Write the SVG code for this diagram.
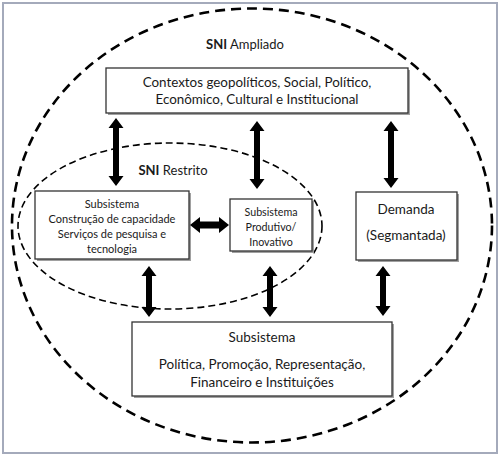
<svg xmlns="http://www.w3.org/2000/svg" width="500" height="457" viewBox="0 0 500 457">
<style>
text{font-family:Lato,"Liberation Sans",sans-serif;fill:#1a1a1a;text-anchor:middle}
.box{fill:#fff;stroke:#333;stroke-width:1.3}
.sh{fill:#a0a0a0}
.arr{fill:#000}
</style>
<rect x="0" y="0" width="500" height="457" fill="#fff"/>
<rect x="3" y="3" width="494" height="450" fill="#fff" stroke="#a4aabb" stroke-width="2"/>
<ellipse id="sni-ampliado" cx="252" cy="225.5" rx="240" ry="217" fill="none" stroke="#000" stroke-width="2.6" stroke-dasharray="10 6"/>
<ellipse id="sni-restrito" cx="170" cy="226" rx="152" ry="83" fill="none" stroke="#000" stroke-width="1.6" stroke-dasharray="7 4"/>
<text x="245" y="49" font-size="13"><tspan font-weight="bold">SNI</tspan> Ampliado</text>
<text x="173" y="175" font-size="13"><tspan font-weight="bold">SNI</tspan> Restrito</text>
<g id="contextos">
<rect class="sh" x="108" y="70" width="302" height="45"/>
<rect class="box" x="106" y="68" width="302" height="45"/>
<text x="257" y="86.5" font-size="13.4">Contextos geopolíticos, Social, Político,</text>
<text x="257" y="103.5" font-size="13.4">Econômico, Cultural e Institucional</text>
</g>
<g id="subsistema-capacidade">
<rect class="sh" x="37" y="193" width="154" height="68"/>
<rect class="box" x="35" y="191" width="154" height="68"/>
<text x="112" y="208" font-size="11">Subsistema</text>
<text x="112" y="223" font-size="11">Construção de capacidade</text>
<text x="112" y="238" font-size="11">Serviços de pesquisa e</text>
<text x="112" y="253" font-size="11">tecnologia</text>
</g>
<g id="subsistema-produtivo">
<rect class="sh" x="232" y="201" width="82" height="52"/>
<rect class="box" x="230" y="199" width="82" height="52"/>
<text x="271" y="216" font-size="10.7">Subsistema</text>
<text x="271" y="231" font-size="10.7">Produtivo/</text>
<text x="271" y="246" font-size="10.7">Inovativo</text>
</g>
<g id="demanda">
<rect class="sh" x="358" y="194" width="101" height="68"/>
<rect class="box" x="356" y="192" width="101" height="68"/>
<text x="406" y="213.5" font-size="13.5">Demanda</text>
<text x="406" y="239.5" font-size="13.5">(Segmantada)</text>
</g>
<g id="subsistema-politica">
<rect class="sh" x="134" y="324" width="260" height="74"/>
<rect class="box" x="132" y="322" width="260" height="74"/>
<text x="262" y="341.5" font-size="13.5">Subsistema</text>
<text x="262" y="368.5" font-size="13.5">Política, Promoção, Representação,</text>
<text x="262" y="386.5" font-size="13.5">Financeiro e Instituições</text>
</g>
<g id="connectors">
<path class="arr" d="M116,118 L123.5,128 L119,128 L119,176 L123.5,176 L116,186 L108.5,176 L113,176 L113,128 L108.5,128 Z"/>
<path class="arr" d="M257,121 L264.5,131 L260,131 L260,179 L264.5,179 L257,189 L249.5,179 L254,179 L254,131 L249.5,131 Z"/>
<path class="arr" d="M391,121 L398.5,131 L394,131 L394,178 L398.5,178 L391,188 L383.5,178 L388,178 L388,131 L383.5,131 Z"/>
<path class="arr" d="M149,266 L156.5,276 L152,276 L152,307 L156.5,307 L149,317 L141.5,307 L146,307 L146,276 L141.5,276 Z"/>
<path class="arr" d="M270,266 L277.5,276 L273,276 L273,307 L277.5,307 L270,317 L262.5,307 L267,307 L267,276 L262.5,276 Z"/>
<path class="arr" d="M383,266 L390.5,276 L386,276 L386,306 L390.5,306 L383,316 L375.5,306 L380,306 L380,276 L375.5,276 Z"/>
<path class="arr" d="M190,225 L200,217 L200,221.5 L219,221.5 L219,217 L229,225 L219,233 L219,228.5 L200,228.5 L200,233 Z"/>
</g>
</svg>
